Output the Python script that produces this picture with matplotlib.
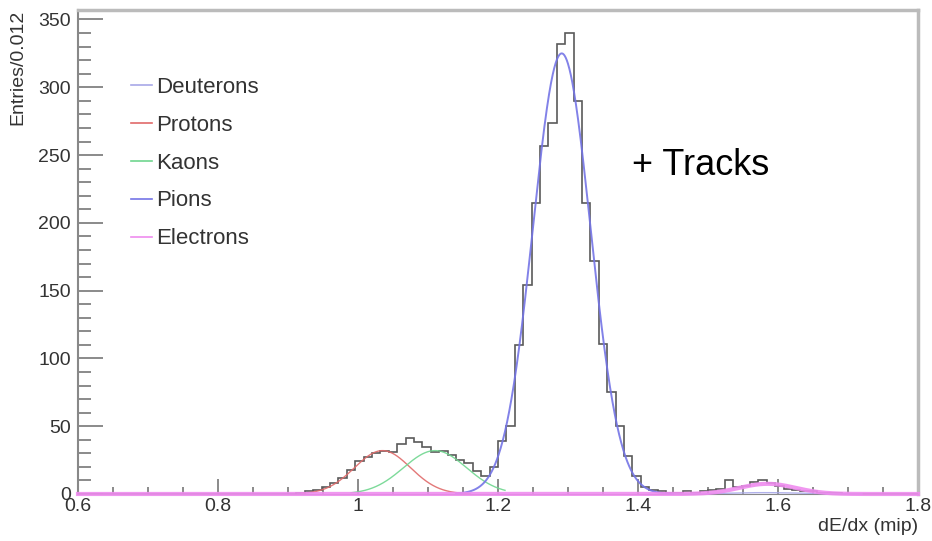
import matplotlib.pyplot as plt
import numpy as np
from matplotlib.lines import Line2D
from matplotlib.ticker import MultipleLocator

plt.rcParams["font.family"] = ["Liberation Sans", "DejaVu Sans"]

# dE/dx histogram, 100 bins of 0.012 from 0.6 to 1.8
x_lo, x_hi, bin_w = 0.6, 1.8, 0.012
first_bin = 26
counts = [1, 2, 3, 5, 8, 12, 18, 24, 27, 30,
          32, 31, 37, 41, 38, 35, 31, 32, 29, 25,
          23, 17, 13, 20, 39, 50, 110, 154, 215, 257,
          274, 332, 340, 290, 215, 172, 111, 75, 50, 28,
          13, 5, 3, 2, 1, 1, 2, 1, 2, 3,
          4, 10, 5, 6, 9, 10, 8, 6, 4, 3,
          2, 2, 1, 1, 1]

# gaussian fit results: (amplitude, mean, sigma, draw range)
species = ["Deuterons", "Protons", "Kaons", "Pions", "Electrons"]
amp = [1.0, 32.0, 32.0, 325.0, 7.5]
mean = [1.58, 1.035, 1.11, 1.291, 1.585]
sigma = [0.05, 0.04, 0.045, 0.041, 0.04]
fit_range = [(1.45, 1.72), (0.92, 1.16), (0.99, 1.21), (1.14, 1.45), (0.6, 1.8)]
colors = ["#a8a8e8", "#e06a6a", "#6fd68f", "#7474e6", "#ef8cef"]
widths = [1.0, 1.0, 1.0, 1.4, 3.0]

n_bins = int(round((x_hi - x_lo) / bin_w))
h = np.zeros(n_bins)
h[first_bin:first_bin + len(counts)] = counts
edges = np.linspace(x_lo, x_hi, n_bins + 1)

fig = plt.figure(figsize=(9.32, 5.41), dpi=100)
ax = fig.add_axes([0.0837, 0.0869, 0.9013, 0.8946])

ax.stairs(h, edges, color="#5a5a5a", lw=1.2, zorder=3)

for i, name in enumerate(species):
    a, b = fit_range[i]
    xs = np.linspace(a, b, 600)
    ys = amp[i] * np.exp(-0.5 * ((xs - mean[i]) / sigma[i]) ** 2)
    ax.plot(xs, ys, color=colors[i], lw=widths[i], alpha=0.9,
            zorder=4 if name != "Electrons" else 5, clip_on=False)

ax.set_xlim(x_lo, x_hi)
ax.set_ylim(0, 357)

ax.xaxis.set_major_locator(MultipleLocator(0.2))
ax.xaxis.set_minor_locator(MultipleLocator(0.05))
ax.yaxis.set_major_locator(MultipleLocator(50))
ax.yaxis.set_minor_locator(MultipleLocator(10))
ax.set_xticks([0.6, 0.8, 1.0, 1.2, 1.4, 1.6, 1.8])
ax.set_xticklabels(["0.6", "0.8", "1", "1.2", "1.4", "1.6", "1.8"])

ax.tick_params(axis="both", which="both", direction="in", colors="#777777",
               labelcolor="#333333", labelsize=14, width=1.2)
ax.tick_params(axis="y", which="major", length=18, pad=5)
ax.tick_params(axis="y", which="minor", length=9)
ax.tick_params(axis="x", which="major", length=10.5, pad=3)
ax.tick_params(axis="x", which="minor", length=5)

ax.spines["left"].set_color("#888888")
ax.spines["left"].set_linewidth(1.5)
ax.spines["bottom"].set_color("#888888")
for s in ("top", "right"):
    ax.spines[s].set_color("#bbbbbb")
    ax.spines[s].set_linewidth(2.5)

ax.set_xlabel("dE/dx (mip)", loc="right", fontsize=14, color="#333333", labelpad=2)
ax.set_ylabel("Entries/0.012", loc="top", fontsize=14, color="#333333", labelpad=9)

handles = [Line2D([], [], color=c, lw=1.2) for c in colors]
ax.legend(handles, species, loc="upper left", bbox_to_anchor=(0.063, 0.862),
          frameon=False, fontsize=16, handlelength=0.95, handletextpad=0.2,
          labelspacing=0.76, borderpad=0, borderaxespad=0,
          labelcolor="#333333")

ax.text(1.391, 242, "+ Tracks", fontsize=26, color="black", va="center", ha="left")

fig.savefig("out.png", dpi=100)
